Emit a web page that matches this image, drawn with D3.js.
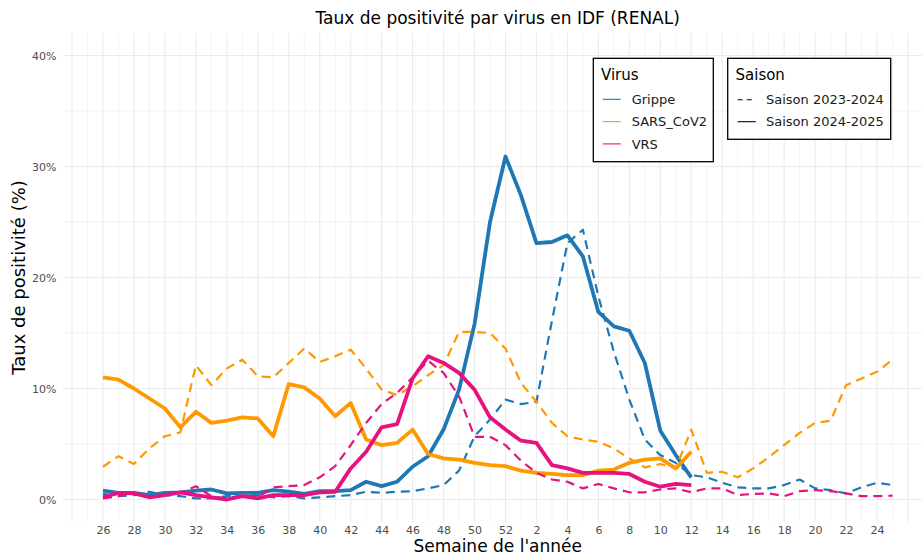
<!DOCTYPE html>
<html><head><meta charset="utf-8">
<script src="https://cdn.jsdelivr.net/npm/d3@7"></script>
<style>
body{margin:0;background:#fff;}
svg{display:block;font-family:"DejaVu Sans",sans-serif;}
</style>
</head><body>
<svg id="chart" width="922" height="556"></svg>
<script>
// ---- data ----
const weeks = [26,27,28,29,30,31,32,33,34,35,36,37,38,39,40,41,42,43,44,45,46,47,48,49,50,51,52,
               1,2,3,4,5,6,7,8,9,10,11,12,13,14,15,16,17,18,19,20,21,22,23,24,25];
const tickIdx = [0,2,4,6,8,10,12,14,16,18,20,22,24,26,28,30,32,34,36,38,40,42,44,46,48,50];
const yTicks = [0,10,20,30,40];
const yMinor = [5,15,25,35];
const virusNames = ["Grippe","SARS_CoV2","VRS"];
const virusColors = ["#1F78B4","#FF9900","#E6127F"];
const seasonNames = ["Saison 2023-2024","Saison 2024-2025"];

const grippe2324 = [0.5,0.3,0.4,0.7,0.4,0.3,0.1,0.1,0.3,0.3, 0.4,0.2,0.3,0.1,0.2,0.3,0.4,0.7,0.6,0.7,
  0.75,1.0,1.3,2.6,5.7,7.2,9.0,8.6,8.8,16.1, 23.1,24.3,18.3,13.3,9.0,5.4,4.0,3.3,2.2,2.0,
  1.5,1.1,1.0,1.0,1.3,1.8,1.0,0.85,0.55,1.1, 1.5,1.3];
const grippe2425 = [0.8,0.6,0.6,0.4,0.6,0.65,0.8,0.9,0.55,0.6, 0.6,0.85,0.7,0.5,0.75,0.75,0.85,1.6,1.2,1.6,
  2.95,3.9,6.3,9.9,15.8,25.0,30.9,27.4,23.1,23.2, 23.8,21.9,16.9,15.6,15.2,12.3,6.2,4.0,2.0];
const sars2324 = [2.95,3.9,3.2,4.6,5.7,6.05,12.1,10.3,11.8,12.6, 11.1,11.0,12.3,13.6,12.4,12.9,13.5,11.8,9.9,9.4,
  10.2,11.2,12.1,15.1,15.1,15.0,13.6,10.5,8.8,6.9, 5.7,5.4,5.2,4.6,3.7,2.9,3.2,2.8,6.3,2.4,
  2.5,2.0,2.8,3.8,4.9,6.0,6.9,7.1,10.3,10.9, 11.5,12.6];
const sars2425 = [11.0,10.8,10.0,9.1,8.2,6.5,7.9,6.9,7.1,7.4, 7.3,5.7,10.4,10.1,9.1,7.5,8.7,5.4,4.9,5.1,
  6.3,4.1,3.7,3.6,3.3,3.1,3.0,2.6,2.4,2.3, 2.2,2.2,2.6,2.7,3.3,3.6,3.7,2.8,4.3];
const vrs2324 = [0.1,0.3,0.6,0.2,0.4,0.6,1.2,0.3,0.1,0.4, 0.2,1.1,1.2,1.3,2.0,3.0,4.9,6.9,8.6,9.6,
  11.0,12.5,11.4,9.3,5.65,5.65,4.9,3.5,2.4,1.8, 1.6,1.0,1.4,1.0,0.65,0.65,0.9,1.0,0.65,1.0,
  1.0,0.4,0.5,0.55,0.3,0.75,0.85,0.75,0.55,0.3, 0.3,0.35];
const vrs2425 = [0.2,0.6,0.55,0.2,0.4,0.65,0.4,0.2,0.0,0.3, 0.1,0.4,0.4,0.4,0.65,0.7,2.8,4.3,6.5,6.8,
  10.9,12.9,12.3,11.4,9.9,7.4,6.3,5.3,5.1,3.1, 2.8,2.4,2.4,2.4,2.3,1.6,1.15,1.4,1.3];

const series = [
  {virus:0, season:0, values:grippe2324},
  {virus:0, season:1, values:grippe2425},
  {virus:1, season:0, values:sars2324},
  {virus:1, season:1, values:sars2425},
  {virus:2, season:0, values:vrs2324},
  {virus:2, season:1, values:vrs2425}
];

// ---- layout ----
const svg = d3.select("#chart");
const P = {left:63.5, right:932, top:33.3, bottom:521.7};
const x = d3.scaleLinear().domain([-2.55, 53.55]).range([P.left, P.right]);
const y = d3.scaleLinear().domain([-2, 42]).range([P.bottom, P.top]);

svg.append("rect").attr("width",922).attr("height",556).attr("fill","#fff");

// grid
const grid = svg.append("g");
const vLines = d3.range(-2, 54);
grid.selectAll(".vg").data(vLines).join("line")
  .attr("x1", d=>x(d)).attr("x2", d=>x(d))
  .attr("y1", P.top).attr("y2", P.bottom)
  .attr("stroke", "#EBEBEB")
  .attr("stroke-width", d => (d % 2 === 0) ? 1.1 : 0.6);
grid.selectAll(".hm").data(yMinor).join("line")
  .attr("x1", P.left).attr("x2", P.right)
  .attr("y1", d=>y(d)).attr("y2", d=>y(d))
  .attr("stroke", "#EBEBEB").attr("stroke-width", 0.6);
grid.selectAll(".hM").data(yTicks).join("line")
  .attr("x1", P.left).attr("x2", P.right)
  .attr("y1", d=>y(d)).attr("y2", d=>y(d))
  .attr("stroke", "#EBEBEB").attr("stroke-width", 1.1);

// axes
const xAxis = svg.append("g").attr("transform", `translate(0,${P.bottom})`)
  .call(d3.axisBottom(x).tickValues(tickIdx).tickFormat(i => weeks[i]).tickSize(0).tickPadding(4.5));
const yAxis = svg.append("g").attr("transform", `translate(${P.left},0)`)
  .call(d3.axisLeft(y).tickValues(yTicks).tickFormat(d => d + "%").tickSize(0).tickPadding(7));
[xAxis, yAxis].forEach(a => {
  a.select(".domain").remove();
  a.selectAll("text").attr("fill", "#4D4D4D").style("font-size", "11px")
    .style("font-family", '"DejaVu Sans",sans-serif');
});

// lines
const line = d3.line().x((d,i)=>x(i)).y(d=>y(d));
const lines = svg.append("g");
series.forEach(s => {
  lines.append("path")
    .attr("d", line(s.values))
    .attr("fill", "none")
    .attr("stroke", virusColors[s.virus])
    .attr("stroke-width", s.season === 1 ? 3.8 : 2.2)
    .attr("stroke-dasharray", s.season === 1 ? null : "9,6")
    .attr("stroke-linejoin", "round");
});

// titles
svg.append("text").attr("x", 497.7).attr("y", 24).attr("text-anchor","middle")
  .style("font-size","17px").attr("fill","#000")
  .text("Taux de positivité par virus en IDF (RENAL)");
svg.append("text").attr("x", 497.7).attr("y", 552.3).attr("text-anchor","middle")
  .style("font-size","17px").attr("fill","#000")
  .text("Semaine de l'année");
svg.append("text").attr("transform", `translate(25,${(P.top+P.bottom)/2}) rotate(-90)`)
  .attr("text-anchor","middle").style("font-size","18px").attr("fill","#000")
  .text("Taux de positivité (%)");

// legends
const lg1 = svg.append("g");
lg1.append("rect").attr("x",593.3).attr("y",58.3).attr("width",120).attr("height",103.4)
  .attr("fill","#fff").attr("stroke","#000").attr("stroke-width",1.3);
lg1.append("text").attr("x",601).attr("y",80).style("font-size","15px").text("Virus");
virusNames.forEach((v,i) => {
  const yy = 99.3 + i*22.3;
  lg1.append("line").attr("x1",602.7).attr("x2",620.7).attr("y1",yy).attr("y2",yy)
    .attr("stroke",virusColors[i]).attr("stroke-width",1.1);
  lg1.append("text").attr("x",631.7).attr("y",yy).attr("dy","0.36em")
    .style("font-size","13px").attr("fill","#1a1a1a").text(v);
});
const lg2 = svg.append("g");
lg2.append("rect").attr("x",727.7).attr("y",58.3).attr("width",163).attr("height",81)
  .attr("fill","#fff").attr("stroke","#000").attr("stroke-width",1.3);
lg2.append("text").attr("x",735.5).attr("y",80).style("font-size","15px").text("Saison");
seasonNames.forEach((s,i) => {
  const yy = 99.7 + i*22;
  lg2.append("line").attr("x1",737.7).attr("x2",755.7).attr("y1",yy).attr("y2",yy)
    .attr("stroke","#000").attr("stroke-width",1.1)
    .attr("stroke-dasharray", i === 0 ? "5,4" : null);
  lg2.append("text").attr("x",766).attr("y",yy).attr("dy","0.36em")
    .style("font-size","13px").attr("fill","#1a1a1a").text(s);
});
</script>
</body></html>
